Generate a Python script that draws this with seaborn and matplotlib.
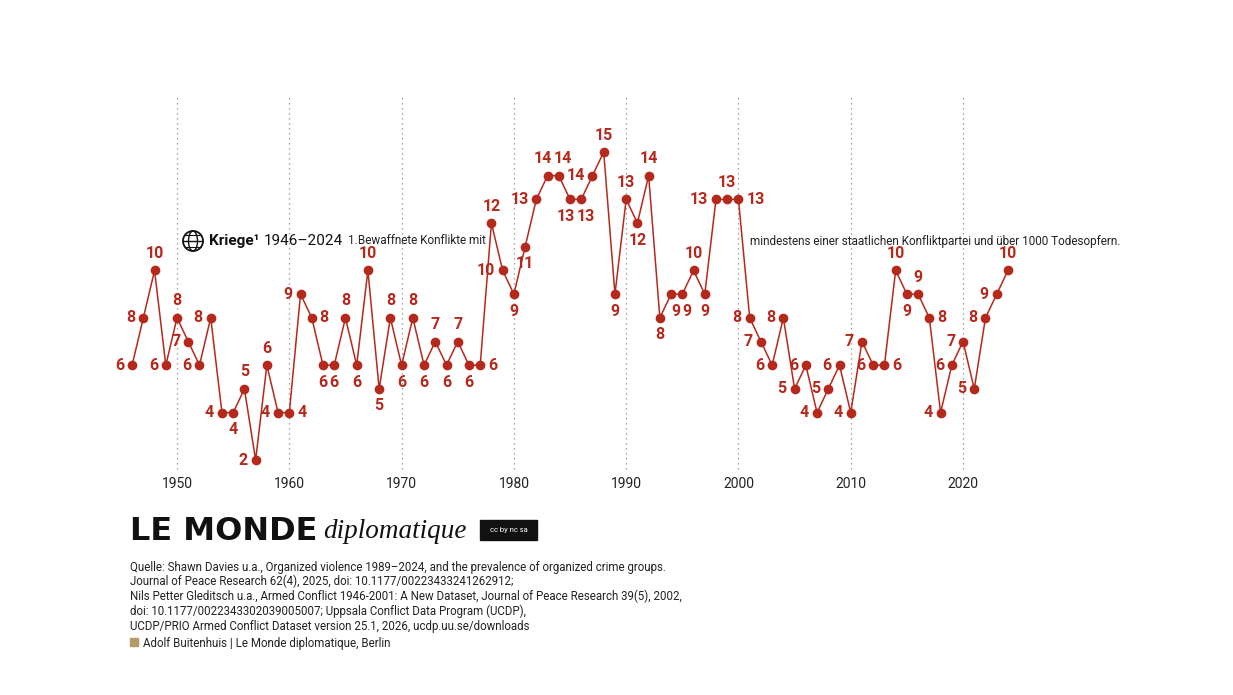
import matplotlib.pyplot as plt
import seaborn as sns
import pandas as pd
from matplotlib.patches import Circle, Ellipse, Rectangle

years = list(range(1946, 2025))
kriege = [6, 8, 10, 6, 8, 7, 6, 8, 4, 4, 5, 2, 6, 4, 4, 9, 8, 6, 6, 8,
          6, 10, 5, 8, 6, 8, 6, 7, 6, 7, 6, 6, 12, 10, 9, 11, 13, 14, 14, 13,
          13, 14, 15, 9, 13, 12, 14, 8, 9, 9, 10, 9, 13, 13, 13, 8, 7, 6, 8, 5,
          6, 4, 5, 6, 4, 7, 6, 6, 10, 9, 9, 8, 4, 6, 7, 5, 8, 9, 10]
# label placement per year: L left, R right, A above, B below,
# 1/2 above left/right, 3/4 below left/right
placement = ("LLALALLLLB" "ALALRLRBBA" "BABABABABA" "BRALBBL123"
             "4LABABAB44" "ABLARLLLLL" "LLLLLLLRAB" "ARLLLLLLA")
decades = [1950, 1960, 1970, 1980, 1990, 2000, 2010, 2020]

df = pd.DataFrame({"Jahr": years, "Kriege": kriege})
red = "#b5291c"

sns.set_theme(style="white")
plt.rcParams["font.family"] = ["Roboto", "DejaVu Sans"]

fig = plt.figure(figsize=(12.33, 6.95), dpi=100)
ax = fig.add_axes([100 / 1233, 1 - 480 / 695, 1030 / 1233, 410 / 695])
ax.set_xlim(1943.14, 2034.87)
ax.set_ylim(1.156, 18.46)
ax.axis("off")

for d in decades:
    ax.vlines(d, 1.6, 17.3, colors="#888888", linestyles=(0, (1, 3)), linewidth=0.9)
    ax.text(d, 1.0, str(d), ha="center", va="center", fontsize=10, color="#222222")

sns.lineplot(data=df, x="Jahr", y="Kriege", color=red, linewidth=1.1, ax=ax,
             marker="o", markersize=7, markeredgewidth=0)

offs = {"L": (-0.7, 0, "right", "center"), "R": (0.7, 0, "left", "center"),
        "A": (0, 0.4, "center", "bottom"), "B": (0, -0.4, "center", "top"),
        "1": (-0.4, 0.4, "center", "bottom"), "2": (0.4, 0.4, "center", "bottom"),
        "3": (-0.4, -0.4, "center", "top"), "4": (0.4, -0.4, "center", "top")}
for y, v, p in zip(years, kriege, placement):
    dx, dy, ha, va = offs[p]
    ax.text(y + dx, v + dy, str(v), ha=ha, va=va, fontsize=11.5,
            fontweight="bold", color=red)

fax = fig.add_axes([0, 0, 1, 1], facecolor="none")
fax.set_xlim(0, 1233)
fax.set_ylim(695, 0)
fax.axis("off")
fax.add_patch(Circle((193, 241), 10, fill=False, lw=1.3, color="#111111"))
fax.add_patch(Ellipse((193, 241), 9, 20, fill=False, lw=1, color="#111111"))
fax.plot([183, 203], [241, 241], color="#111111", lw=1)
fax.plot([185, 201], [235, 235], color="#111111", lw=0.8)
fax.plot([185, 201], [247, 247], color="#111111", lw=0.8)
t1 = fax.text(209, 241, "Kriege¹", fontsize=11, fontweight="bold", va="center", color="#111111")
fax.annotate("1946–2024", xy=(1, 0.5), xycoords=t1, xytext=(3, 0), textcoords="offset points",
             fontsize=11, va="center", color="#111111")
fax.text(348, 241, "1.Bewaffnete Konflikte mit", fontsize=8.5, va="center", color="#222222")
fax.text(750, 241, "mindestens einer staatlichen Konfliktpartei und über 1000 Todesopfern.",
         fontsize=8.5, va="center", color="#222222")

t2 = fax.text(130, 531, "LE MONDE", fontsize=23, fontweight="bold", va="center",
              family=["DejaVu Sans"], color="#111111")
fax.annotate("diplomatique", xy=(1, 0.5), xycoords=t2, xytext=(4, 0), textcoords="offset points",
             fontsize=19.5, style="italic", va="center", family=["Liberation Serif"], color="#111111")
fax.add_patch(Rectangle((480, 520), 57, 20, fill=True, color="#111111"))
fax.text(508.5, 530, "cc by nc sa", fontsize=5.5, color="white", ha="center", va="center")

quelle = ["Quelle: Shawn Davies u.a., Organized violence 1989–2024, and the prevalence of organized crime groups.",
          "Journal of Peace Research 62(4), 2025, doi: 10.1177/00223433241262912;",
          "Nils Petter Gleditsch u.a., Armed Conflict 1946-2001: A New Dataset, Journal of Peace Research 39(5), 2002,",
          "doi: 10.1177/0022343302039005007; Uppsala Conflict Data Program (UCDP),",
          "UCDP/PRIO Armed Conflict Dataset version 25.1, 2026, ucdp.uu.se/downloads"]
for i, line in enumerate(quelle):
    fax.text(130, 567 + i * 14.8, line, fontsize=8.3, va="center", color="#222222")
fax.add_patch(Rectangle((130, 638), 8, 8, color="#b59a6a"))
fax.text(143, 643, "Adolf Buitenhuis | Le Monde diplomatique, Berlin", fontsize=8.3,
         va="center", color="#222222")

fig.savefig("out.png", dpi=100)
